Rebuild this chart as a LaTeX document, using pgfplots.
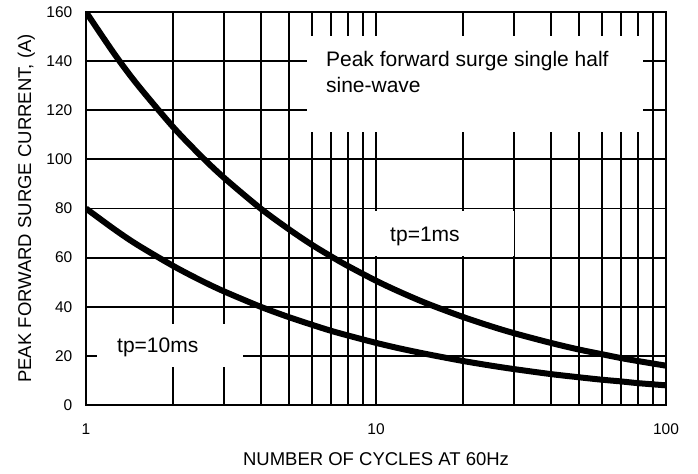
\documentclass[border=0pt]{standalone}
\usepackage{fontspec}
\setmainfont{Liberation Sans}
\usepackage{pgfplots}
\pgfplotsset{compat=1.18}
\begin{document}
\begin{tikzpicture}
\useasboundingbox (0,0) rectangle (698bp,474bp);
\begin{axis}[
  name=ax,
  at={(86bp,69bp)}, anchor=south west,
  scale only axis, width=580bp, height=393bp,
  xmode=log, log basis x=10,
  xmin=1, xmax=100, ymin=0, ymax=160,
  xtick={1,10,100}, xticklabels={1,10,100},
  minor xtick={2,3,4,5,6,7,8,9,20,30,40,50,60,70,80,90},
  ytick={0,20,40,60,80,100,120,140,160},
  yticklabels={0,20,40,60,80,100,120,140,160},
  grid=both,
  major grid style={black, line width=1.9bp},
  minor grid style={black, line width=1.9bp},
  major tick length=0pt, minor tick length=0pt,
  axis line style={black, line width=2bp},
  tick label style={font=\fontsize{15.5bp}{18bp}\selectfont},
  xticklabel style={anchor=base, yshift=-30bp},
  yticklabel style={anchor=east, inner sep=0pt, xshift=-13.5bp},
  xlabel={NUMBER OF CYCLES AT 60Hz},
  ylabel={PEAK FORWARD SURGE CURRENT, (A)},
  label style={font=\fontsize{18.5bp}{22bp}\selectfont},
  xlabel style={at={(axis description cs:0.5,-0.1527)}, anchor=base},
  ylabel style={at={(axis description cs:-0.0948,0.5)}, anchor=base},
]
\fill[white] (axis cs:5.78,111.2) rectangle (axis cs:83.3,150.2);
\fill[white] (axis cs:9.24,60.8) rectangle (axis cs:30,79.0);
\fill[white] (axis cs:1.09,15.5) rectangle (axis cs:3.48,33);
\node[anchor=base west, inner sep=0pt, font=\fontsize{21bp}{25bp}\selectfont] at (axis cs:6.72,138) {Peak forward surge single half};
\node[anchor=base west, inner sep=0pt, font=\fontsize{21bp}{25bp}\selectfont] at (axis cs:6.72,127.4) {sine-wave};
\node[anchor=base west, inner sep=0pt, font=\fontsize{21bp}{25bp}\selectfont] at (axis cs:11.18,66.4) {tp=1ms};
\node[anchor=base west, inner sep=0pt, font=\fontsize{21bp}{25bp}\selectfont] at (axis cs:1.279,21.2) {tp=10ms};
% tp=1ms
\addplot[black, line width=6bp, smooth, no marks] coordinates {
(1,160) (1.25,143.1) (1.5,130.6) (2,113.1) (2.5,101.2) (3,92.4) (4,80)
(5,71.6) (6,65.3) (7,60.5) (8,56.6) (10,50.6) (12,46.2) (15,41.3)
(20,35.8) (25,32) (30,29.2) (40,25.3) (50,22.6) (60,20.7) (70,19.1)
(80,17.9) (100,16)
};
% tp=10ms
\addplot[black, line width=6bp, smooth, no marks] coordinates {
(1,80) (1.25,71.6) (1.5,65.3) (2,56.6) (2.5,50.6) (3,46.2) (4,40)
(5,35.8) (6,32.7) (7,30.2) (8,28.3) (10,25.3) (12,23.1) (15,20.7)
(20,17.9) (25,16) (30,14.6) (40,12.6) (50,11.3) (60,10.3) (70,9.6)
(80,8.9) (100,8)
};
\end{axis}
\draw[black, line width=2.8bp] (ax.north west) -- (ax.south west) -- (ax.south east);
\end{tikzpicture}
\end{document}
